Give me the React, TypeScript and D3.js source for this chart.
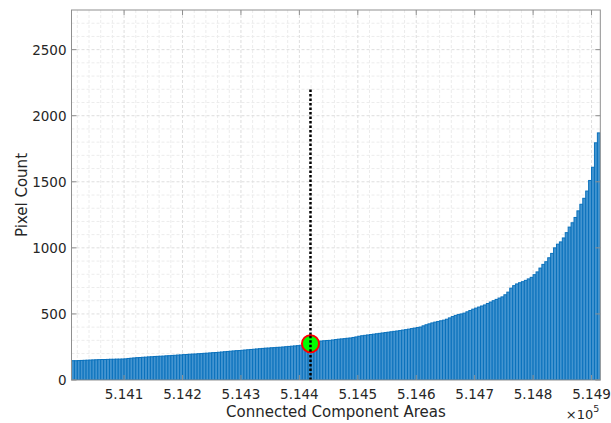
import * as d3 from "d3";
import { useEffect, useRef } from "react";

// bar start positions (connected component id), step 5
const barStart = 514010;
const barStep = 5;

// pixel counts, one per bar
const pixelCounts: number[] = [
  146, 146, 147, 148, 149, 150, 151, 152, 153, 154,
  155, 155, 156, 157, 157, 158, 158, 159, 160, 163,
  165, 167, 169, 170, 172, 173, 175, 176, 178, 179,
  180, 181, 183, 184, 186, 187, 189, 190, 192, 193,
  195, 196, 197, 199, 200, 202, 203, 205, 207, 208,
  210, 212, 214, 216, 218, 220, 222, 223, 225, 227,
  229, 231, 233, 235, 237, 239, 241, 242, 244, 245,
  247, 248, 250, 252, 254, 256, 258, 260, 263, 266,
  270, 274, 280, 286, 292, 295, 297, 299, 300, 303,
  306, 309, 311, 313, 316, 318, 322, 326, 331, 335,
  338, 341, 344, 347, 350, 353, 356, 359, 362, 365,
  368, 371, 374, 378, 381, 385, 389, 393, 397, 401,
  410, 418, 425, 432, 438, 443, 448, 453, 460, 470,
  480, 489, 495, 500, 506, 516, 526, 536, 544, 552,
  560, 568, 579, 590, 600, 610, 620, 629, 645, 665,
  695, 714, 727, 736, 744, 754, 765, 777, 797, 818,
  847, 875, 895, 925, 958, 1000, 1028, 1045, 1075, 1115,
  1157, 1190, 1230, 1280, 1330, 1375, 1430, 1510, 1610, 1795,
  1870,
];

// highlighted point and the dotted marker line
const markerX = 514419;
const markerY = 275;
const markerLineTop = 2200;

const xTicks = [514100, 514200, 514300, 514400, 514500, 514600, 514700, 514800, 514900];
const yTicks = [0, 500, 1000, 1500, 2000, 2500];

const App = () => {
  const svgRef = useRef<SVGSVGElement>(null);

  const W = 611;
  const H = 423;
  const margin = { top: 10, right: 10.7, bottom: 43, left: 71.5 };
  const width = W - margin.left - margin.right;
  const height = H - margin.top - margin.bottom;

  useEffect(() => {
    const svg = d3.select(svgRef.current);
    svg.selectAll("*").remove();

    const font = "DejaVu Sans, sans-serif";
    const textColor = "#262626";

    const x = d3.scaleLinear().domain([514010, 514915]).range([0, width]);
    const y = d3.scaleLinear().domain([0, 2800]).range([height, 0]);

    const chart = svg.append("g").attr("transform", `translate(${margin.left},${margin.top})`);

    //минорная сетка
    const grid = chart.append("g");
    grid.selectAll(".minx")
      .data(d3.range(514020, 514915, 20).filter(v => v % 100 !== 0))
      .enter().append("line")
      .attr("x1", d => x(d)).attr("x2", d => x(d))
      .attr("y1", 0).attr("y2", height)
      .attr("stroke", "#ececec").attr("stroke-dasharray", "3,2");
    grid.selectAll(".miny")
      .data(d3.range(100, 2800, 100).filter(v => v % 500 !== 0))
      .enter().append("line")
      .attr("x1", 0).attr("x2", width)
      .attr("y1", d => y(d)).attr("y2", d => y(d))
      .attr("stroke", "#ececec").attr("stroke-dasharray", "3,2");
    //основная сетка
    grid.selectAll(".majx")
      .data(xTicks)
      .enter().append("line")
      .attr("x1", d => x(d)).attr("x2", d => x(d))
      .attr("y1", 0).attr("y2", height)
      .attr("stroke", "#dedede").attr("stroke-dasharray", "3,2");
    grid.selectAll(".majy")
      .data(yTicks.slice(1))
      .enter().append("line")
      .attr("x1", 0).attr("x2", width)
      .attr("y1", d => y(d)).attr("y2", d => y(d))
      .attr("stroke", "#dedede").attr("stroke-dasharray", "3,2");

    //столбцы
    chart.append("clipPath").attr("id", "plotclip")
      .append("rect").attr("width", width).attr("height", height);
    chart.append("g").attr("clip-path", "url(#plotclip)")
      .selectAll("rect")
      .data(pixelCounts)
      .enter().append("rect")
      .attr("x", (_, i) => x(barStart + i * barStep))
      .attr("width", x(barStart + barStep) - x(barStart))
      .attr("y", d => y(d))
      .attr("height", d => height - y(d))
      .attr("fill", "#4394d0")
      .attr("stroke", "#0a71bc")
      .attr("stroke-width", 1);

    //пунктирная линия
    chart.append("line")
      .attr("x1", x(markerX)).attr("x2", x(markerX))
      .attr("y1", y(0)).attr("y2", y(markerLineTop))
      .attr("stroke", "#000").attr("stroke-width", 2.5)
      .attr("stroke-dasharray", "2.5,2");

    //точка
    chart.append("circle")
      .attr("cx", x(markerX)).attr("cy", y(markerY))
      .attr("r", 8.5)
      .attr("fill", "#00ff00").attr("stroke", "#ff0000").attr("stroke-width", 2);
    chart.append("line")
      .attr("x1", x(markerX)).attr("x2", x(markerX))
      .attr("y1", y(markerY) - 8).attr("y2", y(markerY) + 8)
      .attr("stroke", "#000").attr("stroke-width", 2.5)
      .attr("stroke-dasharray", "2.5,2");

    //рамка
    chart.append("rect")
      .attr("width", width).attr("height", height)
      .attr("fill", "none").attr("stroke", "#8f8f8f").attr("stroke-width", 1);

    //засечки внутрь
    const ticks = chart.append("g").attr("stroke", "#8f8f8f");
    xTicks.forEach(t => {
      ticks.append("line").attr("x1", x(t)).attr("x2", x(t)).attr("y1", height).attr("y2", height - 5);
      ticks.append("line").attr("x1", x(t)).attr("x2", x(t)).attr("y1", 0).attr("y2", 5);
    });
    yTicks.forEach(t => {
      ticks.append("line").attr("x1", 0).attr("x2", 5).attr("y1", y(t)).attr("y2", y(t));
      ticks.append("line").attr("x1", width).attr("x2", width - 5).attr("y1", y(t)).attr("y2", y(t));
    });

    //подписи засечек
    chart.selectAll(".xl")
      .data(xTicks)
      .enter().append("text")
      .attr("x", d => x(d)).attr("y", height + 19)
      .attr("text-anchor", "middle")
      .style("font-family", font).style("font-size", "13.5px").style("fill", textColor)
      .text(d => (d / 1e5).toFixed(3));
    chart.selectAll(".yl")
      .data(yTicks)
      .enter().append("text")
      .attr("x", -5).attr("y", d => y(d) + 5)
      .attr("text-anchor", "end")
      .style("font-family", font).style("font-size", "13.5px").style("fill", textColor)
      .text(d => d);

    //подписи осей
    chart.append("text")
      .attr("x", width / 2).attr("y", height + 37)
      .attr("text-anchor", "middle")
      .style("font-family", font).style("font-size", "15px").style("fill", textColor)
      .text("Connected Component Areas");
    chart.append("text")
      .attr("transform", `translate(${-45},${height / 2}) rotate(-90)`)
      .attr("text-anchor", "middle")
      .style("font-family", font).style("font-size", "15px").style("fill", textColor)
      .text("Pixel Count");

    //множитель оси x
    const mult = chart.append("text")
      .attr("x", width - 1).attr("y", height + 39)
      .attr("text-anchor", "end")
      .style("font-family", font).style("font-size", "13px").style("fill", textColor);
    mult.append("tspan").text("\u00d710");
    mult.append("tspan").attr("dy", -7).style("font-size", "9.5px").text("5");
  }, [width, height]);

  return (
    <svg
      ref={svgRef}
      width={W}
      height={H}
      style={{ position: "absolute", left: 0, top: 0, background: "#fff" }}
    />
  );
};

export default App;
